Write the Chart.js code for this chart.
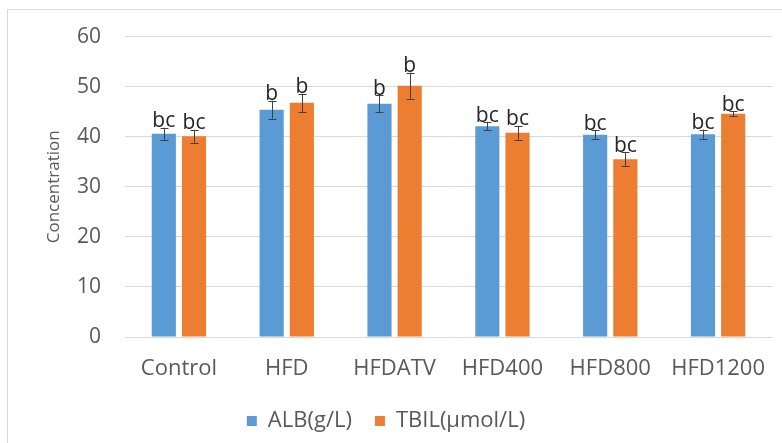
<!DOCTYPE html>
<html>
<head>
<meta charset="utf-8">
<script src="https://cdn.jsdelivr.net/npm/chart.js@4.4.1/dist/chart.umd.min.js"></script>
<style>
  html, body { margin: 0; padding: 0; background: #fff; }
  #wrap { position: relative; width: 782px; height: 443px; }
  #frame { position: absolute; left: 7px; top: 9px; width: 780px; height: 440px; border: 1px solid #d9d9d9; box-sizing: border-box; }
  canvas { position: absolute; left: 0; top: 0; }
</style>
</head>
<body>
<div id="wrap">
  <div id="frame"></div>
  <canvas id="chart" width="782" height="443"></canvas>
</div>
<script>
// Group names on the x axis
const groups = ['Control', 'HFD', 'HFDATV', 'HFD400', 'HFD800', 'HFD1200'];

// ALB (g/L) means, error bars and significance letters
const albMean = [40.6, 45.4, 46.6, 42.1, 40.4, 40.5];
const albErr = [1.2, 1.8, 1.7, 0.8, 0.9, 0.9];
const albLetters = ['bc', 'b', 'b', 'bc', 'bc', 'bc'];

// TBIL (µmol/L) means, error bars and significance letters
const tbilMean = [40.1, 46.8, 50.2, 40.8, 35.5, 44.6];
const tbilErr = [1.3, 1.8, 2.6, 1.4, 1.4, 0.5];
const tbilLetters = ['bc', 'b', 'b', 'bc', 'bc', 'bc'];

const yTicks = [0, 10, 20, 30, 40, 50, 60];

const FONT = "'Open Sans', sans-serif";
const GREY = '#595959';

// draws the error bars and the letters above them
const errorBars = {
    id: 'errorBars',
    afterDatasetsDraw(chart) {
        const ctx = chart.ctx;
        const yScale = chart.scales.y;
        chart.data.datasets.forEach((ds, i) => {
            const meta = chart.getDatasetMeta(i);
            meta.data.forEach((bar, j) => {
                const v = ds.data[j];
                const e = ds.errors[j];
                const top = yScale.getPixelForValue(v + e);
                const bot = yScale.getPixelForValue(v - e);
                const x = Math.round(bar.x) + 0.5;
                ctx.save();
                ctx.strokeStyle = '#404040';
                ctx.lineWidth = 1;
                ctx.beginPath();
                ctx.moveTo(x, top);
                ctx.lineTo(x, bot);
                ctx.moveTo(x - 4, Math.round(top) + 0.5);
                ctx.lineTo(x + 4, Math.round(top) + 0.5);
                ctx.moveTo(x - 4, Math.round(bot) + 0.5);
                ctx.lineTo(x + 4, Math.round(bot) + 0.5);
                ctx.stroke();
                ctx.fillStyle = '#262626';
                ctx.font = '21px ' + FONT;
                ctx.textAlign = 'center';
                ctx.textBaseline = 'bottom';
                ctx.fillText(ds.letters[j], bar.x, top + 4);
                ctx.restore();
            });
        });
    }
};

new Chart(document.getElementById('chart'), {
    type: 'bar',
    data: {
        labels: groups,
        datasets: [{
            label: 'ALB(g/L)',
            data: albMean,
            errors: albErr,
            letters: albLetters,
            backgroundColor: '#5B9BD5',
            categoryPercentage: 0.56,
            barPercentage: 0.8
        }, {
            label: 'TBIL(\u03bcmol/L)',
            data: tbilMean,
            errors: tbilErr,
            letters: tbilLetters,
            backgroundColor: '#ED7D31',
            categoryPercentage: 0.56,
            barPercentage: 0.8
        }]
    },
    options: {
        responsive: false,
        animation: false,
        layout: { padding: { left: 0, right: 10, top: 32, bottom: 1 } },
        scales: {
            x: {
                grid: { display: false },
                border: { display: false },
                ticks: { color: GREY, font: { family: FONT, size: 22 }, padding: 11 },
                afterFit(scale) { scale.height = 50; }
            },
            y: {
                min: 0,
                max: 60,
                afterBuildTicks(scale) { scale.ticks = yTicks.map(v => ({ value: v })); },
                grid: { color: '#d9d9d9', drawTicks: false },
                border: { display: false },
                ticks: { color: GREY, font: { family: FONT, size: 21 }, padding: 24 },
                title: {
                    display: true,
                    text: 'Concentration',
                    color: GREY,
                    font: { family: FONT, size: 17 },
                    padding: { top: 44, bottom: 0 }
                },
                afterFit(scale) { scale.width = 125; }
            }
        },
        plugins: {
            legend: {
                position: 'bottom',
                labels: {
                    color: GREY,
                    font: { family: FONT, size: 22 },
                    boxWidth: 10,
                    boxHeight: 10,
                    padding: 23
                }
            },
            tooltip: { enabled: false }
        }
    },
    plugins: [errorBars]
});
</script>
</body>
</html>
